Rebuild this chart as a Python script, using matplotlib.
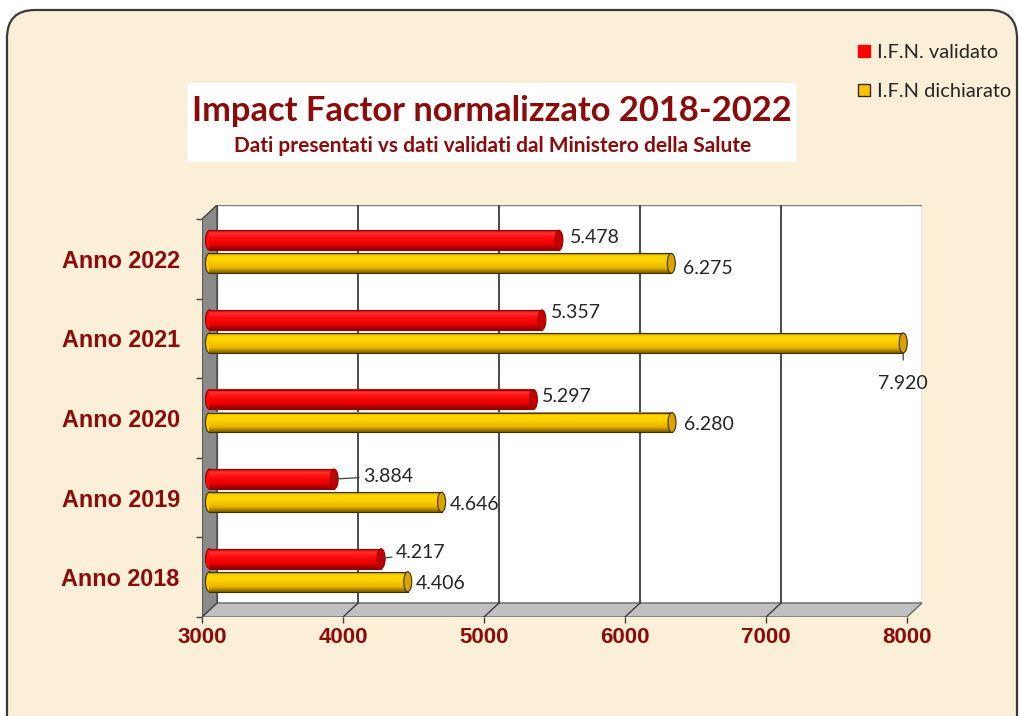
import numpy as np
import matplotlib
matplotlib.use("Agg")
import matplotlib.pyplot as plt
from matplotlib.patches import Polygon, Rectangle, Ellipse, FancyBboxPatch
from matplotlib.colors import LinearSegmentedColormap
from matplotlib.lines import Line2D

# dati
anni = ["Anno 2018", "Anno 2019", "Anno 2020", "Anno 2021", "Anno 2022"]
validato = [4217, 3884, 5297, 5357, 5478]
dichiarato = [4406, 4646, 6280, 7920, 6275]
x_ticks = [3000, 4000, 5000, 6000, 7000, 8000]
serie = ["I.F.N. validato", "I.F.N dichiarato"]

# spostamento etichette (pixel) rispetto alla fine della barra
off_val = [(15, 6), (29, 3), (9, 3), (9, 7), (11, 3)]
off_dic = [(8, -2), (8, -2), (12, -2), (0, -45), (12, -5)]

W, H = 1020, 716
ROSSO_SCURO = "#8b0a0a"
fig = plt.figure(figsize=(W / 100, H / 100), dpi=100)
fig.patch.set_facecolor("white")

# cornice arrotondata
fig.patches.append(FancyBboxPatch((0.07, -0.3), 10.1, 7.36,
                                  boxstyle="round,pad=0,rounding_size=0.28",
                                  transform=fig.dpi_scale_trans, facecolor="#fbefd7",
                                  edgecolor="#3a3a3a", lw=1.6, zorder=-10))
# riquadro titolo
fig.patches.append(Rectangle((187 / W, 1 - 162 / H), 610 / W, 79 / H,
                             transform=fig.transFigure, fc="white", ec="none", zorder=-5))
fig.text(492 / W, 1 - 111 / H, "Impact Factor normalizzato 2018-2022", ha="center", va="center",
         fontsize=24.8, fontweight="bold", family="Lato", color=ROSSO_SCURO)
fig.text(493 / W, 1 - 146 / H, "Dati presentati vs dati validati dal Ministero della Salute",
         ha="center", va="center", fontsize=15, fontweight="bold", family="Lato", color=ROSSO_SCURO)

ax = fig.add_axes([202 / W, (H - 617) / H, 720 / W, 412 / H])
ax.set_facecolor("none")

px = 705 / 5000.0          # pixel per unita'
dx = 15 / px               # profondita' 3D in x
dy = 14 / 79.6             # profondita' 3D in y
cap_w = 8 / px

# pareti
ax.add_patch(Rectangle((3000 + dx, dy), 5000, 5, fc="white", ec="#7f7f7f", lw=1, zorder=1))
ax.add_patch(Polygon([(3000, 0), (8000, 0), (8000 + dx, dy), (3000 + dx, dy)],
                     fc="#c0c0c0", ec="#6a6a6a", lw=1, zorder=1.2))
ax.add_patch(Polygon([(3000, 0), (3000 + dx, dy), (3000 + dx, 5 + dy), (3000, 5)],
                     fc="#8a8a8a", ec="#444444", lw=1, zorder=1.2))
for k in x_ticks[1:-1]:
    ax.plot([k + dx, k + dx], [dy, 5 + dy], color="#3c3c3c", lw=1.3, zorder=1.5)
    ax.plot([k, k + dx], [0, dy], color="#3c3c3c", lw=1, zorder=1.5)

rosso = LinearSegmentedColormap.from_list("r", [(0, "#c80000"), (0.15, "#ff3030"), (0.35, "#ff1010"),
                                                (0.7, "#ee0000"), (1, "#8a0000")])
giallo = LinearSegmentedColormap.from_list("g", [(0, "#b88a00"), (0.15, "#ffd800"), (0.4, "#ffd200"),
                                                 (0.75, "#e8b400"), (1, "#7a5a00")])
grad = np.linspace(0, 1, 64).reshape(-1, 1)


def cilindro(x0, x1, yc, h, cmap, cap, edge):
    ax.add_patch(Ellipse((x0, yc), cap_w, h, fc=cmap(0.45), ec=edge, lw=0.8, zorder=3))
    ax.imshow(grad, cmap=cmap, extent=(x0, x1, yc - h / 2, yc + h / 2), aspect="auto",
              interpolation="bicubic", zorder=4)
    ax.plot([x0, x1], [yc + h / 2, yc + h / 2], color=edge, lw=0.8, zorder=4.5)
    ax.plot([x0, x1], [yc - h / 2, yc - h / 2], color=edge, lw=0.8, zorder=4.5)
    ax.add_patch(Ellipse((x1, yc), cap_w, h, fc=cap, ec=edge, lw=0.8, zorder=5))


def fmt(v):
    return f"{v:,}".replace(",", ".")


h = 0.25
off = 0.145
etichetta = dict(fontsize=14, family="Lato", color="#262626", zorder=6)
for i in range(len(anni)):
    yc = i + 0.5 + dy / 2
    x0 = 3000 + dx / 2
    # validato
    xv = validato[i] + dx / 2
    cilindro(x0, xv, yc + off, h, rosso, "#c40000", "#9a0000")
    ox, oy = off_val[i]
    arrow = dict(arrowstyle="-", color="#404040", lw=0.9, shrinkA=1, shrinkB=0) if ox > 12 else None
    ax.annotate(fmt(validato[i]), (xv, yc + off), xytext=(ox, oy), textcoords="offset pixels",
                ha="left", va="center", arrowprops=arrow, **etichetta)
    # dichiarato
    xd = dichiarato[i] + dx / 2
    cilindro(x0, xd, yc - off, h, giallo, "#d9a300", "#3a3000")
    ox, oy = off_dic[i]
    if ox == 0:
        ax.annotate(fmt(dichiarato[i]), (xd, yc - off - h / 2), xytext=(0, oy + 14), textcoords="offset pixels",
                    ha="center", va="center",
                    arrowprops=dict(arrowstyle="-", color="#404040", lw=0.9, shrinkA=9, shrinkB=0), **etichetta)
    else:
        ax.annotate(fmt(dichiarato[i]), (xd, yc - off), xytext=(ox, oy), textcoords="offset pixels",
                    ha="left", va="center", **etichetta)

ax.set_xlim(3000, 8000 + dx)
ax.set_ylim(0, 5 + dy)
for s in ax.spines.values():
    s.set_visible(False)

ax.set_xticks(x_ticks)
ax.set_xticklabels([str(t) for t in x_ticks], fontsize=16, fontweight="bold",
                   family="Liberation Sans", color=ROSSO_SCURO)
ax.tick_params(axis="x", direction="out", length=4.5, width=1, color="#404040", pad=3)

ax.set_yticks(range(6))
ax.set_yticklabels([])
ax.set_yticks([i + 0.5 for i in range(5)], minor=True)
ax.set_yticklabels(anni, minor=True, fontsize=16.8, fontweight="bold",
                   family="Liberation Sans", color=ROSSO_SCURO)
ax.tick_params(axis="y", which="major", direction="out", length=4.5, width=1, color="#404040")
ax.tick_params(axis="y", which="minor", length=0, pad=16)

handles = [Line2D([], [], marker="s", ls="", mfc="#ff0000", mec="#ff0000", ms=8),
           Line2D([], [], marker="s", ls="", mfc="#ffc000", mec="#2a2a2a", ms=8)]
fig.legend(handles=handles, labels=serie, loc="upper left", bbox_to_anchor=(837 / W, 1 - 26 / H),
           frameon=False, prop={"family": "Lato", "size": 14.4}, labelspacing=1.1,
           handletextpad=0.2, handlelength=0.9, labelcolor="#262626")

fig.savefig("out.png", dpi=100)
